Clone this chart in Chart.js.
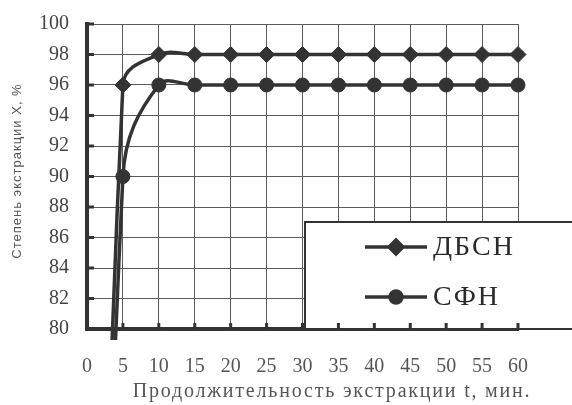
<!DOCTYPE html>
<html>
<head>
<meta charset="utf-8">
<script src="https://cdn.jsdelivr.net/npm/chart.js@4/dist/chart.umd.min.js"></script>
<style>
  html, body { margin: 0; padding: 0; background: #fff; }
  #wrap { width: 572px; height: 405px; }
</style>
</head>
<body>
<div id="wrap"><canvas id="c" width="572" height="405"></canvas></div>
<script>
// Extraction time, min
const times = [0, 5, 10, 15, 20, 25, 30, 35, 40, 45, 50, 55, 60];
// Degree of extraction X, %
const dbsnValues = [0, 96, 98, 98, 98, 98, 98, 98, 98, 98, 98, 98, 98];
const sfnValues  = [0, 90, 96, 96, 96, 96, 96, 96, 96, 96, 96, 96, 96];
const seriesNames = ['ДБСН', 'СФН'];
const xTicks = [0, 5, 10, 15, 20, 25, 30, 35, 40, 45, 50, 55, 60];
const yTicks = [80, 82, 84, 86, 88, 90, 92, 94, 96, 98, 100];
const xTitle = 'Продолжительность экстракции t, мин.';
const yTitle = 'Степень экстракции X, %';

const INK = '#333';
const SERIF = '"Liberation Serif", "DejaVu Serif", serif';
const SANS = '"Liberation Sans", Arial, sans-serif';

const toPoints = vals => times.map((t, i) => ({ x: t, y: vals[i] }));

// white page, framed legend, inner tick marks and the axis captions
const decor = {
  id: 'decor',
  beforeDraw(chart) {
    const ctx = chart.ctx;
    ctx.save();
    ctx.fillStyle = '#fff';
    ctx.fillRect(0, 0, chart.width, chart.height);
    ctx.restore();
  },
  afterDatasetsDraw(chart) {
    const ctx = chart.ctx;
    const area = chart.chartArea;
    const xs = chart.scales.x, ys = chart.scales.y;
    ctx.save();

    // legend frame
    const bx = 305, by = 222, bw = 280, bh = area.bottom - by;
    ctx.fillStyle = '#fff';
    ctx.fillRect(bx, by, bw, bh);
    ctx.strokeStyle = INK;
    ctx.lineWidth = 2;
    ctx.strokeRect(bx, by, bw, bh);

    // legend entries
    const sets = chart.data.datasets;
    const rows = [247, 297];
    sets.forEach((ds, i) => {
      const y = rows[i];
      ctx.strokeStyle = INK;
      ctx.lineWidth = 3.5;
      ctx.beginPath();
      ctx.moveTo(365, y);
      ctx.lineTo(427, y);
      ctx.stroke();
      ctx.fillStyle = INK;
      Chart.helpers.drawPoint(ctx, {
        pointStyle: ds.pointStyle, radius: i === 0 ? 7 : 6, borderWidth: 1
      }, 396, y);
      ctx.fillStyle = '#2a2a2a';
      ctx.font = '28px ' + SERIF;
      ctx.letterSpacing = '2px';
      ctx.textBaseline = 'middle';
      ctx.textAlign = 'left';
      ctx.fillText(ds.label, 433, y + 1);
    });
    ctx.letterSpacing = '0px';

    // inner tick marks on both axes
    ctx.strokeStyle = INK;
    ctx.lineWidth = 3;
    yTicks.forEach(v => {
      const y = ys.getPixelForValue(v);
      ctx.beginPath();
      ctx.moveTo(area.left, y);
      ctx.lineTo(area.left + 7, y);
      ctx.stroke();
    });
    xTicks.forEach(v => {
      const x = xs.getPixelForValue(v);
      ctx.beginPath();
      ctx.moveTo(x, area.bottom);
      ctx.lineTo(x, area.bottom - 6);
      ctx.stroke();
    });

    // x-axis caption
    ctx.fillStyle = '#555';
    ctx.font = '20px ' + SERIF;
    ctx.letterSpacing = '1.8px';
    ctx.textAlign = 'center';
    ctx.textBaseline = 'middle';
    ctx.fillText(xTitle, 332, 392);

    // y-axis caption
    ctx.translate(17, 171);
    ctx.rotate(-Math.PI / 2);
    ctx.font = '13px ' + SANS;
    ctx.letterSpacing = '1px';
    ctx.fillText(yTitle, 0, 0);
    ctx.restore();
  }
};

new Chart(document.getElementById('c'), {
  type: 'line',
  data: {
    datasets: [
      {
        label: seriesNames[0],
        data: toPoints(dbsnValues),
        borderColor: INK,
        backgroundColor: INK,
        borderWidth: 3.5,
        pointStyle: 'rectRot',
        pointRadius: c => (c.dataIndex === 0 ? 0 : 8),
        pointBorderWidth: 1,
        tension: 0.4,
        clip: { left: 5, top: 10, right: 12, bottom: 11 }
      },
      {
        label: seriesNames[1],
        data: toPoints(sfnValues),
        borderColor: INK,
        backgroundColor: INK,
        borderWidth: 3.5,
        pointStyle: 'circle',
        pointRadius: c => (c.dataIndex === 0 ? 0 : 7),
        pointBorderWidth: 1,
        tension: 0.4,
        clip: { left: 5, top: 10, right: 12, bottom: 11 }
      }
    ]
  },
  options: {
    responsive: false,
    animation: false,
    events: [],
    layout: { padding: { top: 24, right: 54, left: 0, bottom: 0 } },
    elements: { line: { capBezierPoints: false } },
    plugins: {
      legend: { display: false },
      tooltip: { enabled: false }
    },
    scales: {
      x: {
        type: 'linear',
        min: 0, max: 60,
        afterBuildTicks: s => { s.ticks = xTicks.map(v => ({ value: v })); },
        afterFit: s => { s.height = 76; s.paddingLeft = 0; s.paddingRight = 0; },
        grid: { color: '#5a5a5a', lineWidth: 1, drawTicks: false },
        border: { color: INK, width: 4 },
        ticks: {
          padding: 26,
          color: '#555',
          font: { family: SERIF, size: 20 }
        }
      },
      y: {
        min: 80, max: 100,
        afterBuildTicks: s => { s.ticks = yTicks.map(v => ({ value: v })); },
        afterFit: s => { s.width = 87; s.paddingTop = 0; s.paddingBottom = 0; },
        grid: { color: '#5a5a5a', lineWidth: 1, drawTicks: false },
        border: { color: INK, width: 4 },
        ticks: {
          padding: 18,
          color: '#444',
          font: { family: SERIF, size: 20 }
        }
      }
    }
  },
  plugins: [decor]
});
</script>
</body>
</html>
